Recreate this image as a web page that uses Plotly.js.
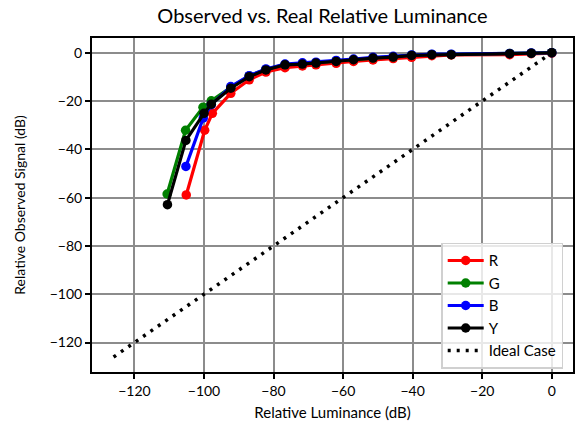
<!DOCTYPE html>
<html>
<head>
<meta charset="utf-8">
<script src="https://cdn.plot.ly/plotly-3.0.1.min.js"></script>
<style>html,body{margin:0;padding:0;background:#fff;}#chart{width:583px;height:434px;}</style>
</head>
<body>
<div id="chart"></div>
<script>
// Measured luminance (dB) vs. relative observed signal (dB) per channel
const tailX = [-92.3, -87, -82.2, -76.7, -71.7, -67.8, -62, -57, -51.4, -45.6, -40.3, -34.5, -28.9, -12.1, -5.9, 0];

const rX = [-105.1, -99.8, -97.6].concat(tailX);
const rY = [-58.9, -32.1, -25.1, -16.8, -11.2, -8.0, -6.2, -5.5, -5.0, -4.4, -3.6, -3.0, -2.4, -1.9, -1.2, -0.9, -0.8, -0.4, -0.2, 0];

const gX = [-110.6, -105.3, -100.3, -97.9].concat(tailX);
const gY = [-58.5, -32.1, -22.6, -19.9, -14.3, -9.6, -6.9, -4.9, -4.5, -4.1, -3.4, -2.8, -2.1, -1.7, -1.0, -0.7, -0.7, -0.3, -0.2, 0];

const bX = [-105.2, -100.2, -97.9].concat(tailX);
const bY = [-47.1, -27.0, -21.5, -14.0, -9.5, -6.7, -4.7, -4.2, -3.9, -3.2, -2.6, -1.9, -1.5, -0.9, -0.6, -0.6, -0.3, -0.1, 0];

const yX = [-110.5, -105.2, -100.0, -97.9].concat(tailX);
const yY = [-62.9, -36.3, -25.1, -21.3, -14.7, -9.9, -7.1, -5.0, -4.7, -4.3, -3.6, -2.9, -2.2, -1.8, -1.1, -0.8, -0.8, -0.4, -0.2, 0];

const idealX = [-126, 0];
const idealY = [-126, 0];

const tickVals = [-120, -100, -80, -60, -40, -20, 0];

const FONT = 'Lato, "Open Sans", sans-serif';

function series(name, x, y, color) {
  return {
    type: 'scatter', mode: 'lines+markers', name: name, x: x, y: y,
    line: {color: color, width: 3.2},
    marker: {color: color, size: 9.5, symbol: 'circle'}
  };
}

const traces = [
  series('R', rX, rY, '#ff0000'),
  series('G', gX, gY, '#008000'),
  series('B', bX, bY, '#0000ff'),
  series('Y', yX, yY, '#000000'),
  {
    type: 'scatter', mode: 'lines', name: 'Ideal Case', x: idealX, y: idealY,
    line: {color: '#000000', width: 3.5, dash: '3px,6px'}
  }
];

const axisCommon = {
  range: [-132.2, 6.1],
  tickvals: tickVals,
  showgrid: true, gridcolor: '#8c8c8c', gridwidth: 2,
  zeroline: false,
  showline: true, linecolor: '#000', linewidth: 2, mirror: true,
  ticks: 'outside', ticklen: 5, tickwidth: 2, tickcolor: '#000',
  tickfont: {family: FONT, size: 14, color: '#000'}
};

const layout = {
  width: 583, height: 434,
  margin: {l: 92, r: 10, t: 38, b: 62},
  paper_bgcolor: '#fff', plot_bgcolor: '#fff',
  font: {family: FONT, color: '#000'},
  title: {text: 'Observed vs. Real Relative Luminance', font: {family: FONT, size: 20, color: '#000'},
          x: 0.553, xanchor: 'center', y: 0.963, yanchor: 'middle'},
  xaxis: Object.assign({}, axisCommon, {
    title: {text: 'Relative Luminance (dB)', font: {family: FONT, size: 15}, standoff: 10}
  }),
  yaxis: Object.assign({}, axisCommon, {
    title: {text: 'Relative Observed Signal (dB)', font: {family: FONT, size: 14}, standoff: 21}
  }),
  showlegend: true,
  legend: {
    x: 0.726, y: 0.387, xanchor: 'left', yanchor: 'top',
    bgcolor: 'rgba(255,255,255,0.8)', bordercolor: '#d0d0d0', borderwidth: 1.5,
    font: {family: FONT, size: 15, color: '#000'},
    itemwidth: 36, tracegroupgap: 0
  }
};

Plotly.newPlot('chart', traces, layout, {displayModeBar: false, staticPlot: true});
</script>
</body>
</html>
